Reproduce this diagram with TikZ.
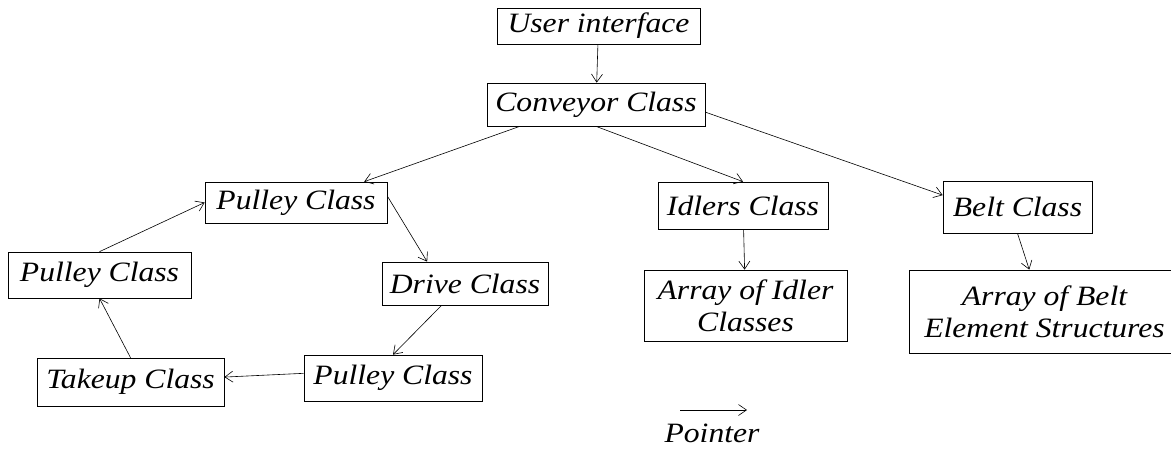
\documentclass[tikz,border=0pt]{standalone}
\usepackage{fontspec}
\setmainfont{Liberation Serif}[FakeStretch=1.13]
\usetikzlibrary{arrows.meta,positioning}

\begin{document}
\begin{tikzpicture}[
    x=1pt,y=-1pt,
    box/.style={draw,line width=0.7pt,inner sep=0pt,align=center,font=\fontsize{28}{32}\selectfont\itshape},
    lbl/.style={inner sep=0pt,font=\fontsize{28}{32}\selectfont\itshape},
    arrow/.style={-{Straight Barb[length=8pt,width=11pt]},line width=0.6pt}
  ]
    \useasboundingbox (0,0) rectangle (1171,450);
    \node[box,minimum width=203pt,minimum height=36pt] (ui) at (598.5,26) {User interface};
    \node[box,minimum width=218pt,minimum height=43pt] (conv) at (596,104.5) {Conveyor Class};
    \node[box,minimum width=182pt,minimum height=41pt] (pulleyA) at (296,202.5) {Pulley Class};
    \node[box,minimum width=183pt,minimum height=46pt] (pulleyB) at (99.5,275) {Pulley Class};
    \node[box,minimum width=166pt,minimum height=43pt] (drive) at (465,283.5) {Drive Class};
    \node[box,minimum width=187pt,minimum height=48pt] (takeup) at (130.5,382) {Takeup Class};
    \node[box,minimum width=178pt,minimum height=46pt] (pulleyC) at (393,378) {Pulley Class};
    \node[box,minimum width=170pt,minimum height=47pt] (idlers) at (743,205.5) {Idlers Class};
    \node[box,minimum width=203pt,minimum height=71pt] (idlerarr) at (745.5,305.5) {Array of Idler\\Classes};
    \node[box,minimum width=149pt,minimum height=52pt] (belt) at (1017.5,207) {Belt Class};
    \node[box,minimum width=271pt,minimum height=83pt] (beltarr) at (1044.5,311.5) {Array of Belt\\Element Structures};
    \coordinate (ptrA) at (680,410);
    \coordinate (ptrB) at (747,410);
    \node[lbl,anchor=base] (ptr) at (712,442) {Pointer};

    \draw[arrow] (ui) -- (conv);
    \draw[arrow] (conv.196) -- (pulleyA.17);
    \draw[arrow] (conv.south) -- (idlers.north);
    \draw[arrow] (conv.-4) -- (belt.171);
    \draw[arrow] (pulleyA.4) -- (drive.150);
    \draw[arrow] (drive.223) -- (pulleyC.north);
    \draw[arrow] (pulleyC.177) -- (takeup.3);
    \draw[arrow] (takeup.north) -- (pulleyB.south);
    \draw[arrow] (pulleyB.north) -- (pulleyA.west);
    \draw[arrow] (idlers) -- (idlerarr);
    \draw[arrow] (belt.south) -- (beltarr.110);
    \draw[arrow] (ptrA) -- (ptrB);
  \end{tikzpicture}
\end{document}
